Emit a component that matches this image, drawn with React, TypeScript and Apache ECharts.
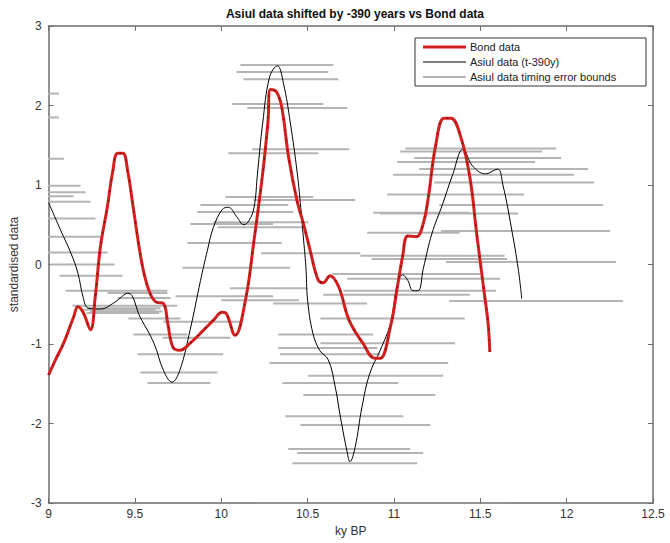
import React, { useEffect, useRef } from "react";
import * as echarts from "echarts";

const xTicks = [9, 9.5, 10, 10.5, 11, 11.5, 12, 12.5];
const yTicks = [-3, -2, -1, 0, 1, 2, 3];

const bondTime = [9.0, 9.04, 9.087, 9.145, 9.17, 9.2, 9.243, 9.27, 9.3, 9.34, 9.37, 9.4, 9.43, 9.46, 9.49, 9.54, 9.58, 9.62, 9.665, 9.69, 9.72, 9.76, 9.82, 9.9, 9.955, 10.005, 10.03, 10.08, 10.14, 10.19, 10.24, 10.27, 10.285, 10.32, 10.35, 10.39, 10.44, 10.475, 10.51, 10.56, 10.59, 10.63, 10.68, 10.74, 10.82, 10.89, 10.92, 10.98, 11.02, 11.05, 11.08, 11.13, 11.17, 11.2, 11.24, 11.29, 11.33, 11.39, 11.44, 11.48, 11.52, 11.545, 11.555];
const bondValue = [-1.39, -1.2, -0.99, -0.66, -0.53, -0.6, -0.82, -0.41, 0.22, 0.72, 1.15, 1.4, 1.4, 1.15, 0.72, 0.02, -0.32, -0.47, -0.49, -0.74, -1.04, -1.08, -0.99, -0.82, -0.7, -0.6, -0.62, -0.89, -0.45, 0.31, 1.15, 1.78, 2.2, 2.17, 1.98, 1.35, 0.79, 0.52, 0.22, -0.19, -0.23, -0.14, -0.28, -0.7, -0.99, -1.18, -1.18, -0.78, -0.28, 0.1, 0.36, 0.35, 0.52, 0.86, 1.48, 1.84, 1.84, 1.58, 1.09, 0.37, -0.31, -0.74, -1.1];

const asiulTime = [9.0, 9.07, 9.13, 9.17, 9.2, 9.23, 9.3, 9.38, 9.46, 9.53, 9.61, 9.665, 9.715, 9.76, 9.82, 9.88, 9.92, 9.955, 10.005, 10.04, 10.09, 10.13, 10.16, 10.19, 10.21, 10.24, 10.28, 10.325, 10.36, 10.4, 10.44, 10.46, 10.475, 10.49, 10.5, 10.53, 10.57, 10.62, 10.66, 10.69, 10.73, 10.745, 10.775, 10.815, 10.86, 10.92, 10.98, 11.02, 11.05, 11.08, 11.11, 11.14, 11.17, 11.22, 11.28, 11.34, 11.4, 11.455, 11.53, 11.6, 11.63, 11.68, 11.72, 11.74];
const asiulValue = [0.78, 0.43, 0.14, -0.11, -0.41, -0.55, -0.56, -0.48, -0.36, -0.66, -0.99, -1.33, -1.48, -1.33, -0.82, -0.2, 0.18, 0.47, 0.69, 0.72, 0.6, 0.5, 0.55, 0.72, 1.15, 1.78, 2.36, 2.5, 2.28, 1.78, 1.15, 0.72, 0.35, -0.03, -0.45, -0.86, -1.08, -1.2, -1.54, -1.92, -2.37, -2.48, -2.3, -1.79, -1.37, -1.08, -0.74, -0.24, -0.13, -0.2, -0.33, -0.33, -0.05, 0.39, 0.75, 1.13, 1.45, 1.24, 1.14, 1.2, 1.01, 0.46, -0.06, -0.43];

const errorStart = [8.9, 8.9, 8.9, 8.9, 8.9, 8.9, 8.9, 8.9, 8.9, 8.9, 9.01, 9.064, 9.098, 9.341, 9.399, 9.139, 9.226, 9.2, 9.24, 9.22, 9.463, 9.665, 9.492, 9.66, 9.515, 9.532, 9.573, 10.041, 10.18, 10.111, 10.088, 10.128, 10.064, 10.151, 10.024, 10.186, 9.879, 9.862, 9.955, 9.978, 9.821, 9.804, 9.775, 9.735, 10.05, 10.0, 10.88, 10.845, 10.23, 10.805, 10.643, 10.73, 10.707, 10.591, 10.3, 10.574, 10.33, 10.574, 10.33, 10.34, 10.28, 10.504, 10.354, 10.475, 10.371, 10.458, 10.388, 10.44, 10.412, 11.065, 11.036, 11.117, 11.019, 11.146, 10.996, 11.233, 10.961, 11.262, 10.92, 11.273, 10.87, 11.302, 11.32];
const errorEnd = [9.06, 9.06, 9.09, 9.185, 9.214, 9.145, 9.243, 9.272, 9.301, 9.341, 9.382, 9.428, 9.688, 9.688, 9.706, 9.746, 9.648, 9.62, 9.66, 9.64, 9.764, 10.111, 9.804, 10.053, 10.012, 9.978, 9.937, 10.562, 10.741, 10.649, 10.62, 10.678, 10.591, 10.73, 10.533, 10.776, 10.388, 10.417, 10.504, 10.475, 10.3, 10.35, 10.4, 10.3, 10.5, 10.45, 11.44, 11.38, 10.805, 11.64, 11.5, 11.615, 11.59, 11.44, 10.845, 11.41, 10.88, 11.354, 10.903, 10.921, 11.314, 11.285, 11.025, 11.239, 11.054, 11.21, 11.094, 11.169, 11.135, 11.939, 11.858, 11.968, 11.817, 12.124, 12.043, 12.159, 11.754, 12.211, 11.719, 12.251, 11.655, 12.286, 12.326];
const errorValue = [2.15, 1.85, 1.33, 0.99, 0.91, 0.86, 0.79, 0.58, 0.35, 0.15, 0.0, -0.14, -0.33, -0.36, -0.42, -0.52, -0.55, -0.57, -0.59, -0.61, -0.68, -0.72, -0.88, -0.92, -1.13, -1.36, -1.49, 1.4, 1.45, 2.51, 2.42, 2.33, 2.02, 1.97, 0.85, 0.81, 0.75, 0.66, 0.53, 0.47, 0.51, 0.27, -0.04, -0.4, -0.3, -0.45, 0.65, 0.4, 0.14, 0.11, -0.12, -0.18, -0.33, -0.38, -0.49, -0.68, -0.88, -0.99, -1.05, -1.13, -1.24, -1.4, -1.49, -1.64, -1.91, -2.02, -2.32, -2.37, -2.5, 1.46, 1.42, 1.34, 1.29, 1.2, 1.13, 1.03, 0.88, 0.75, 0.64, 0.42, 0.07, 0.03, -0.46];

const legendNames = ["Bond data", "Asiul data (t-390y)", "Asiul data timing error bounds"];
const legendColors = ["#d41f1f", "#000000", "#b4b4b4"];
const legendWidths = [3, 1, 2];

const FONT = "'Liberation Sans', Arial, Helvetica, sans-serif";

export default function App() {
  const ref = useRef<HTMLDivElement>(null);
  useEffect(() => {
    if (!ref.current) return;
    const chart = echarts.init(ref.current, null, { renderer: "svg" });
    const bond = bondTime.map((t, i) => [t, bondValue[i]]);
    const asiul = asiulTime.map((t, i) => [t, asiulValue[i]]);
    const errors = errorStart.map((s, i) => [s, errorEnd[i], errorValue[i]]);

    const axisLine = { show: true, onZero: false, lineStyle: { color: "#6e6e6e", width: 1.5 } };
    const tick = { show: true, inside: true, length: 5, lineStyle: { color: "#6e6e6e", width: 1 } };
    const labelStyle = { color: "#333", fontSize: 12, fontFamily: FONT };

    const legendX = 415;
    const legendY = 38;
    const rowGap = 15;
    const legendGraphics: any[] = [
      {
        type: "rect",
        shape: { x: legendX, y: legendY, width: 231, height: 48 },
        style: { fill: "#fff", stroke: "#333", lineWidth: 1 },
        z: 100,
      },
    ];
    legendNames.forEach((n, i) => {
      const y = legendY + 9 + i * rowGap;
      legendGraphics.push({
        type: "line",
        shape: { x1: legendX + 8, y1: y, x2: legendX + 51, y2: y },
        style: { stroke: legendColors[i], lineWidth: legendWidths[i] },
        z: 101,
      });
      legendGraphics.push({
        type: "text",
        x: legendX + 55,
        y,
        style: { text: n, fill: "#222", font: `11px ${FONT}`, verticalAlign: "middle", align: "left" },
        z: 101,
      });
    });

    chart.setOption({
      animation: false,
      backgroundColor: "#fff",
      title: {
        text: "Asiul data shifted by -390 years vs Bond data",
        left: 350,
        top: 3,
        textAlign: "center",
        textStyle: { fontSize: 12, fontWeight: "bold", color: "#111", fontFamily: FONT },
      },
      grid: { left: 48, right: 17, top: 26, bottom: 40 },
      xAxis: [
        {
          type: "value",
          min: 9,
          max: 12.5,
          interval: 0.5,
          name: "ky BP",
          nameLocation: "middle",
          nameGap: 21,
          nameTextStyle: { color: "#333", fontSize: 12, fontFamily: FONT },
          axisLine,
          axisTick: tick,
          axisLabel: { ...labelStyle, margin: 5 },
          splitLine: { show: false },
        },
        {
          type: "value",
          position: "top",
          min: 9,
          max: 12.5,
          interval: 0.5,
          axisLine,
          axisTick: tick,
          axisLabel: { show: false },
          splitLine: { show: false },
        },
      ],
      yAxis: [
        {
          type: "value",
          min: -3,
          max: 3,
          interval: 1,
          name: "standardised data",
          nameLocation: "middle",
          nameGap: 27,
          nameTextStyle: { color: "#333", fontSize: 12, fontFamily: FONT },
          axisLine,
          axisTick: tick,
          axisLabel: { ...labelStyle, margin: 7 },
          splitLine: { show: false },
        },
        {
          type: "value",
          position: "right",
          min: -3,
          max: 3,
          interval: 1,
          axisLine,
          axisTick: tick,
          axisLabel: { show: false },
          splitLine: { show: false },
        },
      ],
      graphic: legendGraphics,
      series: [
        {
          name: legendNames[2],
          type: "custom",
          clip: true,
          z: 2,
          data: errors,
          encode: { x: [0, 1], y: 2 },
          renderItem: (params: any, api: any) => {
            const p1 = api.coord([api.value(0), api.value(2)]);
            const p2 = api.coord([api.value(1), api.value(2)]);
            return {
              type: "line",
              shape: { x1: p1[0], y1: p1[1], x2: p2[0], y2: p2[1] },
              style: { stroke: "#b4b4b4", lineWidth: 2 },
            };
          },
        },
        {
          name: legendNames[1],
          type: "line",
          z: 3,
          data: asiul,
          smooth: 0.4,
          showSymbol: false,
          lineStyle: { color: "#000", width: 1 },
        },
        {
          name: legendNames[0],
          type: "line",
          z: 4,
          data: bond,
          smooth: 0.4,
          showSymbol: false,
          lineStyle: { color: "#d41f1f", width: 3 },
        },
        {
          name: "Bond data points",
          type: "line",
          z: 5,
          data: bond,
          smooth: 0.4,
          showSymbol: false,
          lineStyle: { color: "#3a0000", width: 1.2, type: [1.5, 9], opacity: 0.7 },
        },
      ],
    });
    return () => chart.dispose();
  }, []);
  return <div ref={ref} style={{ position: "fixed", left: 0, top: 0, width: 670, height: 543 }} />;
}
